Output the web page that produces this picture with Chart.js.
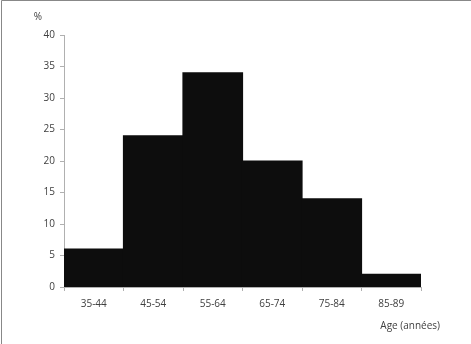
<!DOCTYPE html>
<html>
<head>
<meta charset="utf-8">
<script src="https://cdn.jsdelivr.net/npm/chart.js@4"></script>
<style>
  html, body { margin: 0; padding: 0; background: #fff; }
  #wrap { position: relative; width: 471px; height: 344px; }
</style>
</head>
<body>
<div id="wrap"><canvas id="chart" width="471" height="344"></canvas></div>
<script>
const ageGroups = ['35-44', '45-54', '55-64', '65-74', '75-84', '85-89']
const percentages = [6, 24, 34, 20, 14, 2]
const yMin = 0
const yMax = 40
const yStep = 5

const fontFamily = "'Open Sans', 'Liberation Sans', sans-serif"
const textColor = '#404040'
const axisColor = '#b0b0b0'

// frame + free-standing labels ("%" and "Age (années)")
const extras = {
  id: 'extras',
  afterDraw(chart) {
    const { ctx, chartArea } = chart
    ctx.save()
    ctx.strokeStyle = '#888'
    ctx.lineWidth = 1
    ctx.beginPath()
    ctx.moveTo(1.5, chart.height)
    ctx.lineTo(1.5, 0.5)
    ctx.lineTo(chart.width, 0.5)
    ctx.stroke()

    ctx.fillStyle = textColor
    ctx.font = '10px ' + fontFamily
    ctx.textBaseline = 'middle'
    ctx.textAlign = 'center'
    ctx.fillText('%', chartArea.left - 26, 17)
    ctx.textAlign = 'right'
    ctx.fillText('Age (années)', chartArea.right + 19, 326)
    ctx.restore()
  }
}

new Chart(document.getElementById('chart'), {
  type: 'bar',
  data: {
    labels: ageGroups,
    datasets: [{
      data: percentages,
      backgroundColor: '#0d0d0d',
      borderWidth: 0,
      inflateAmount: 0.6,
      categoryPercentage: 1,
      barPercentage: 1
    }]
  },
  options: {
    responsive: false,
    animation: false,
    layout: { padding: { left: 0, right: 50, top: 35, bottom: 0 } },
    plugins: {
      legend: { display: false },
      tooltip: { enabled: false }
    },
    scales: {
      x: {
        grid: {
          display: true,
          drawOnChartArea: false,
          tickLength: 4,
          color: axisColor
        },
        border: { color: axisColor },
        ticks: {
          color: textColor,
          font: { family: fontFamily, size: 10 },
          padding: 7,
          maxRotation: 0
        },
        afterFit(scale) { scale.height = 57 }
      },
      y: {
        min: yMin,
        max: yMax,
        grid: {
          display: true,
          drawOnChartArea: false,
          tickLength: 4,
          color: axisColor
        },
        border: { color: axisColor },
        ticks: {
          stepSize: yStep,
          color: textColor,
          font: { family: fontFamily, size: 10 },
          padding: 5
        },
        afterFit(scale) { scale.width = 64 }
      }
    }
  },
  plugins: [extras]
})
</script>
</body>
</html>
